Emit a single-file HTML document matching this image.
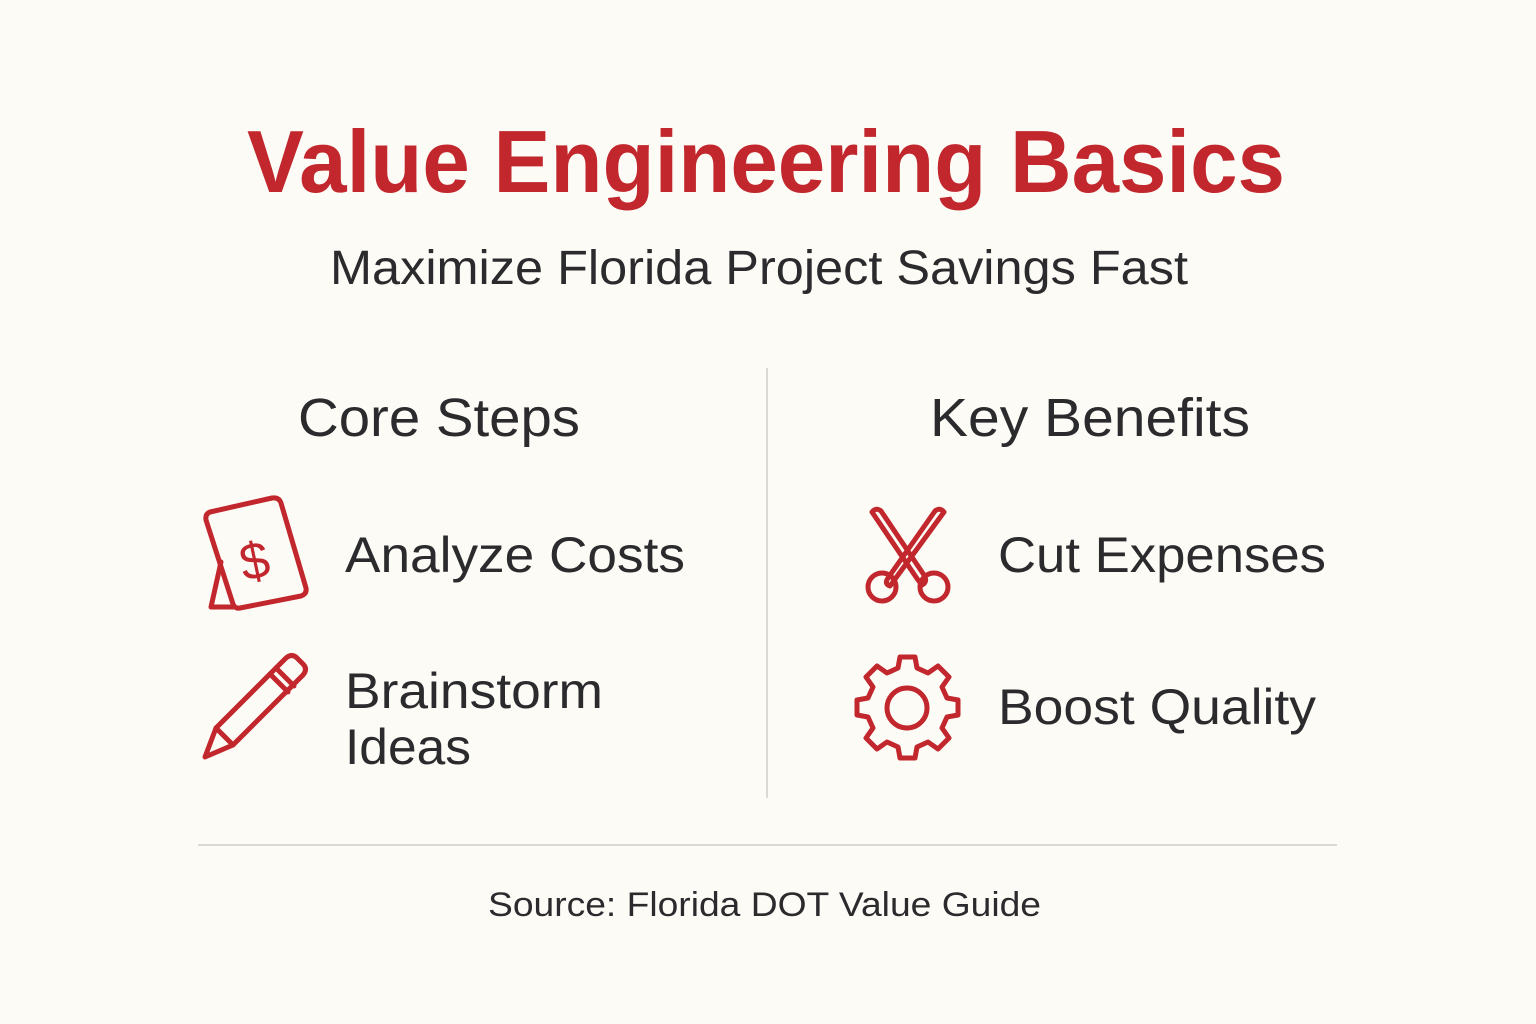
<!DOCTYPE html>
<html><head><meta charset="utf-8"><style>
html,body{margin:0;padding:0;background:#fdfbf6;}
svg{display:block}
text{font-family:"Liberation Sans","DejaVu Sans",sans-serif;}
</style></head><body>
<svg width="1536" height="1024" viewBox="0 0 1536 1024" xmlns="http://www.w3.org/2000/svg">
<rect width="1536" height="1024" fill="#fdfbf6"/>
<text x="247" y="192" font-size="88" font-weight="bold" fill="#c1272d" textLength="1038" lengthAdjust="spacingAndGlyphs">Value Engineering Basics</text>
<text x="330" y="284" font-size="48" fill="#2b2b2e" textLength="858" lengthAdjust="spacingAndGlyphs">Maximize Florida Project Savings Fast</text>
<text x="298" y="436" font-size="54" fill="#2b2b2e" textLength="282" lengthAdjust="spacingAndGlyphs">Core Steps</text>
<text x="930" y="436" font-size="54" fill="#2b2b2e" textLength="320" lengthAdjust="spacingAndGlyphs">Key Benefits</text>
<line x1="767" y1="368" x2="767" y2="798" stroke="#dcd9d3" stroke-width="2"/>
<text x="345" y="572" font-size="50" fill="#2b2b2e" textLength="340" lengthAdjust="spacingAndGlyphs">Analyze Costs</text>
<text x="345" y="708" font-size="50" fill="#2b2b2e" textLength="258" lengthAdjust="spacingAndGlyphs">Brainstorm</text>
<text x="345" y="764" font-size="50" fill="#2b2b2e" textLength="126" lengthAdjust="spacingAndGlyphs">Ideas</text>
<text x="998" y="572" font-size="50" fill="#2b2b2e" textLength="328" lengthAdjust="spacingAndGlyphs">Cut Expenses</text>
<text x="998" y="724" font-size="50" fill="#2b2b2e" textLength="318" lengthAdjust="spacingAndGlyphs">Boost Quality</text>
<line x1="198" y1="845" x2="1337" y2="845" stroke="#dcd9d3" stroke-width="2"/>
<text x="488" y="916" font-size="34" fill="#2b2b2e" textLength="553" lengthAdjust="spacingAndGlyphs">Source: Florida DOT Value Guide</text>
<g fill="none" stroke="#c1272d" stroke-width="5" stroke-linejoin="round" stroke-linecap="round">
<path d="M210 512 L272 498 Q279 497 281 503 L306 588 Q307 594 301 596 L240 608 Q235 609 233 604 L206 520 Q205 514 210 512 Z"/>
<path d="M221 562 L211 607 L234 607"/>
<text x="240" y="578" font-size="52" fill="#c1272d" stroke="none" transform="rotate(-12 258 560)">$</text>
<path d="M216 728 L286 658 Q292 653 297 658 L303 664 Q308 669 303 675 L233 745 Z"/>
<path d="M216 728 L205 757 L233 745"/>
<path d="M270 674 L288 692 M276 668 L294 686"/>
<path d="M872 512 Q876 507 881 511 L924 575 Q928 582 922 585 L918 580 Z"/>
<path d="M944 512 Q940 507 935 511 L888 578 Q884 584 890 586 Z"/>
<circle cx="882" cy="587" r="14"/>
<circle cx="934" cy="587" r="14"/>
<path d="M900 657 L915 657 L917 668 L928 673 L938 666 L949 677 L942 687 L947 698 L958 700 L958 715 L947 717 L942 728 L949 738 L938 749 L928 742 L917 747 L915 758 L900 758 L898 747 L887 742 L877 749 L866 738 L873 728 L868 717 L857 715 L857 700 L868 698 L873 687 L866 677 L877 666 L887 673 L898 668 Z"/>
<circle cx="907" cy="708" r="20"/>
</g>
</svg>
</body></html>
